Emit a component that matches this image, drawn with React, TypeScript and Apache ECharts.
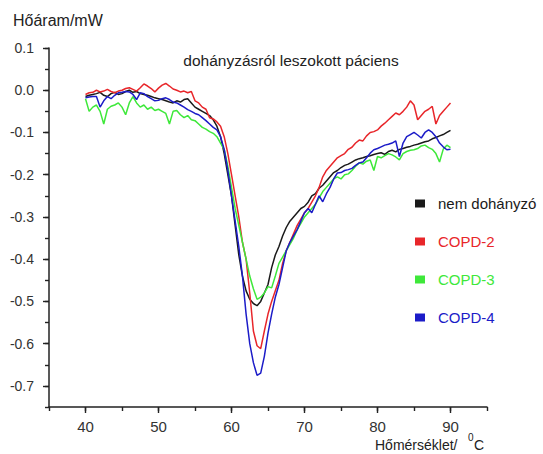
import React, { useEffect, useRef } from "react";
import * as echarts from "echarts";

// temperature grid (°C), step 0.5 from 40 to 90
const temps: number[] = Array.from({ length: 101 }, (_, i) => 40 + i * 0.5);

const seriesNames = ["nem dohányzó", "COPD-2", "COPD-3", "COPD-4"];
const seriesColors = ["#1a1a1a", "#e8262a", "#3ee83a", "#1c1cc8"];

const nemDohanyzo = [
  -0.015, -0.012, -0.010, -0.008, -0.005, -0.012, -0.015, -0.008, -0.005, -0.010,
  -0.008, -0.003, 0.000, -0.005, -0.003, -0.008, -0.010, -0.012, -0.015, -0.018,
  -0.020, -0.022, -0.025, -0.028, -0.030, -0.025, -0.028, -0.022, -0.020, -0.030,
  -0.040, -0.045, -0.050, -0.055, -0.060, -0.070, -0.085, -0.110, -0.150, -0.200,
  -0.250, -0.320, -0.390, -0.440, -0.475, -0.495, -0.505, -0.510, -0.500, -0.480,
  -0.460, -0.420, -0.390, -0.370, -0.345, -0.325, -0.310, -0.300, -0.290, -0.280,
  -0.275, -0.265, -0.250, -0.245, -0.232, -0.225, -0.215, -0.205, -0.195, -0.190,
  -0.183, -0.178, -0.175, -0.170, -0.165, -0.162, -0.160, -0.157, -0.155, -0.152,
  -0.150, -0.148, -0.152, -0.145, -0.142, -0.146, -0.140, -0.138, -0.135, -0.133,
  -0.130, -0.128, -0.125, -0.122, -0.120, -0.115, -0.112, -0.108, -0.105, -0.100,
  -0.095,
];

const copd2 = [
  -0.010, -0.006, -0.005, 0.000, -0.004, -0.002, 0.002, -0.003, -0.006, -0.002,
  0.000, 0.004, 0.006, 0.002, -0.002, 0.006, 0.015, 0.010, 0.004, -0.004,
  0.005, 0.012, 0.016, 0.010, 0.003, 0.000, -0.004, -0.002, -0.006, -0.003,
  -0.025, -0.030, -0.040, -0.045, -0.065, -0.068, -0.075, -0.085, -0.110, -0.150,
  -0.200, -0.250, -0.300, -0.360, -0.400, -0.480, -0.570, -0.605, -0.612, -0.570,
  -0.530, -0.500, -0.475, -0.450, -0.410, -0.380, -0.360, -0.340, -0.320, -0.305,
  -0.290, -0.280, -0.265, -0.250, -0.230, -0.205, -0.190, -0.180, -0.170, -0.160,
  -0.155, -0.150, -0.140, -0.135, -0.125, -0.118, -0.120, -0.108, -0.100, -0.098,
  -0.094, -0.085, -0.078, -0.070, -0.062, -0.054, -0.058, -0.050, -0.040, -0.025,
  -0.035, -0.070, -0.060, -0.050, -0.045, -0.038, -0.080, -0.060, -0.050, -0.040,
  -0.030,
];

const copd3 = [
  -0.020, -0.050, -0.040, -0.035, -0.050, -0.080, -0.045, -0.038, -0.035, -0.030,
  -0.040, -0.058, -0.030, -0.015, -0.030, -0.040, -0.035, -0.045, -0.040, -0.048,
  -0.045, -0.050, -0.055, -0.080, -0.050, -0.048, -0.058, -0.065, -0.060, -0.070,
  -0.072, -0.080, -0.088, -0.092, -0.098, -0.102, -0.110, -0.125, -0.140, -0.180,
  -0.230, -0.280, -0.320, -0.360, -0.400, -0.440, -0.470, -0.495, -0.490, -0.480,
  -0.465, -0.468, -0.440, -0.410, -0.395, -0.380, -0.365, -0.350, -0.330, -0.315,
  -0.300, -0.290, -0.280, -0.270, -0.255, -0.240, -0.230, -0.220, -0.210, -0.205,
  -0.210, -0.200, -0.198, -0.190, -0.180, -0.172, -0.175, -0.168, -0.165, -0.190,
  -0.157, -0.160, -0.155, -0.150, -0.153, -0.158, -0.165, -0.150, -0.145, -0.142,
  -0.141, -0.138, -0.132, -0.130, -0.136, -0.140, -0.150, -0.170, -0.140, -0.130,
  -0.136,
];

const copd4 = [
  -0.018, -0.016, -0.015, -0.015, -0.040, -0.025, -0.015, -0.020, -0.012, -0.006,
  -0.005, -0.003, -0.004, -0.010, -0.022, -0.006, -0.008, -0.015, -0.020, -0.025,
  -0.024, -0.020, -0.018, -0.022, -0.028, -0.030, -0.035, -0.040, -0.046, -0.050,
  -0.055, -0.058, -0.065, -0.072, -0.080, -0.088, -0.094, -0.110, -0.140, -0.190,
  -0.250, -0.310, -0.370, -0.440, -0.530, -0.600, -0.645, -0.675, -0.670, -0.630,
  -0.575, -0.530, -0.490, -0.460, -0.420, -0.380, -0.360, -0.345, -0.330, -0.310,
  -0.290, -0.280, -0.290, -0.270, -0.250, -0.264, -0.245, -0.230, -0.210, -0.196,
  -0.195, -0.190, -0.188, -0.185, -0.178, -0.172, -0.170, -0.160, -0.149, -0.141,
  -0.138, -0.134, -0.130, -0.128, -0.125, -0.120, -0.157, -0.125, -0.110, -0.105,
  -0.100, -0.106, -0.113, -0.100, -0.094, -0.100, -0.110, -0.125, -0.134, -0.141,
  -0.140,
];

const seriesValues = [nemDohanyzo, copd2, copd3, copd4];

const yMajorTicks = [0.1, 0.0, -0.1, -0.2, -0.3, -0.4, -0.5, -0.6, -0.7];
const xMajorTicks = [40, 50, 60, 70, 80, 90];

const FONT = "Liberation Sans, Arial, sans-serif";

export default function App() {
  const ref = useRef<HTMLDivElement>(null);

  useEffect(() => {
    if (!ref.current) return;
    const chart = echarts.init(ref.current, null, { renderer: "svg" });
    const axisLine = { show: true, onZero: false, lineStyle: { color: "#222", width: 1.5 } };
    const tickStyle = { color: "#222", width: 1.4 };
    const grid = { left: 49, right: 56, top: 48, bottom: 47 };

    chart.setOption({
      animation: false,
      backgroundColor: "#fff",
      grid,
      xAxis: [
        {
          type: "value",
          min: 35,
          max: 95,
          interval: 5,
          axisLine,
          splitLine: { show: false },
          axisTick: { show: true, length: 4, inside: false, lineStyle: tickStyle },
          axisLabel: { show: false },
        },
        {
          type: "value",
          min: 35,
          max: 95,
          position: "bottom",
          axisLine: { show: false, onZero: false },
          splitLine: { show: false },
          axisTick: {
            show: true,
            length: 6,
            customValues: xMajorTicks,
            lineStyle: tickStyle,
          },
          axisLabel: {
            show: true,
            customValues: xMajorTicks,
            margin: 12,
            fontSize: 15,
            fontFamily: FONT,
            color: "#333",
          },
        },
      ],
      yAxis: [
        {
          type: "value",
          min: -0.75,
          max: 0.1,
          interval: 0.05,
          axisLine,
          splitLine: { show: false },
          axisTick: { show: true, length: 4, lineStyle: tickStyle },
          axisLabel: { show: false },
        },
        {
          type: "value",
          min: -0.75,
          max: 0.1,
          position: "left",
          axisLine: { show: false, onZero: false },
          splitLine: { show: false },
          axisTick: {
            show: true,
            length: 6,
            customValues: yMajorTicks,
            lineStyle: tickStyle,
          },
          axisLabel: {
            show: true,
            customValues: yMajorTicks,
            margin: 15,
            fontSize: 14,
            fontFamily: FONT,
            color: "#333",
            formatter: (v: number) => (Math.abs(v) < 1e-9 ? 0 : v).toFixed(1),
          },
        },
      ],
      legend: {
        orient: "vertical",
        left: 410,
        top: 191,
        itemWidth: 10,
        itemHeight: 8,
        itemGap: 23,
        icon: "rect",
        textStyle: { fontSize: 15, fontFamily: FONT, lineHeight: 15, padding: [0, 0, 0, 8] },
        data: seriesNames.map((n, i) => ({
          name: n,
          textStyle: { color: seriesColors[i] },
        })),
      },
      series: seriesNames.map((n, i) => ({
        name: n,
        type: "line",
        xAxisIndex: 0,
        yAxisIndex: 0,
        showSymbol: false,
        symbol: "none",
        color: seriesColors[i],
        lineStyle: { width: 1.5, color: seriesColors[i] },
        data: temps.map((t, j) => [t, seriesValues[i][j]]),
      })),
      graphic: [
        {
          type: "text",
          left: 13,
          top: 12,
          style: { text: "Hőáram/mW", fontSize: 16, fontFamily: FONT, fill: "#222" },
        },
        {
          type: "text",
          x: 291,
          y: 60,
          style: {
            text: "dohányzásról leszokott páciens",
            fontSize: 15.5,
            fontFamily: FONT,
            fill: "#222",
            align: "center",
            verticalAlign: "middle",
          },
        },
        {
          type: "text",
          x: 375,
          y: 445,
          style: {
            text: "Hőmérséklet/",
            fontSize: 14,
            fontFamily: FONT,
            fill: "#222",
            verticalAlign: "middle",
          },
        },
        {
          type: "text",
          x: 468,
          y: 437,
          style: { text: "0", fontSize: 10, fontFamily: FONT, fill: "#222", verticalAlign: "middle" },
        },
        {
          type: "text",
          x: 474,
          y: 445,
          style: { text: "C", fontSize: 14, fontFamily: FONT, fill: "#222", verticalAlign: "middle" },
        },
      ],
    });
    return () => chart.dispose();
  }, []);

  return (
    <div
      ref={ref}
      style={{ position: "fixed", left: 0, top: 0, width: 543, height: 454 }}
    />
  );
}
